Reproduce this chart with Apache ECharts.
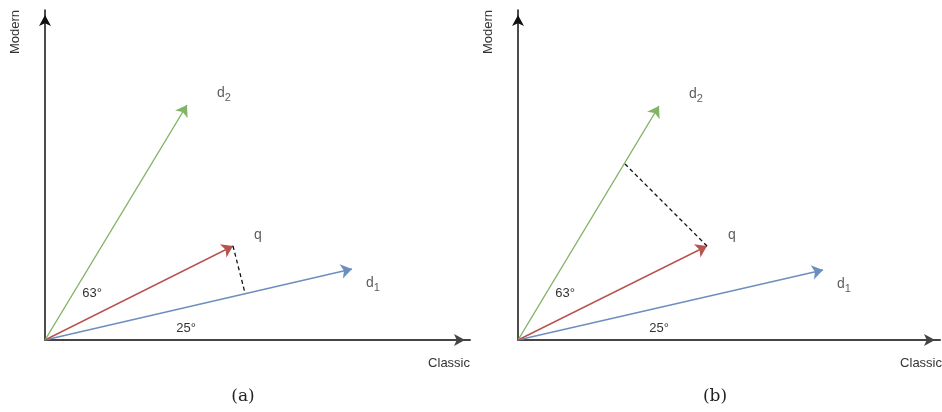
<!DOCTYPE html>
<html>
<head>
<meta charset="utf-8">
<style>
  html, body { margin: 0; padding: 0; background: #ffffff; }
  #chart { width: 942px; height: 412px; }
</style>
<script src="https://cdn.jsdelivr.net/npm/echarts@6/dist/echarts.min.js"></script>
</head>
<body>
<div id="chart"></div>
<script>
// Vector space model: query q and documents d1, d2 in a (Classic, Modern) term space.
// Panel (a) projects q onto d1, panel (b) projects q onto d2.
const panels = ['(a)', '(b)'];
const axisNames = ['Classic', 'Modern'];
const vectorNames = ['d1', 'd2', 'q'];

// Vector tips [classic, modern] per panel
const d1Tips = [[307, 71], [305, 70]];
const d2Tips = [[142, 235], [141, 234]];
const qTips = [[188, 94], [189, 94]];

// Foot of the dashed projection from q onto d1 (panel a) and d2 (panel b)
const projFeet = [[200, 47], [106, 177]];

// Angle annotations
const angleLabels = ['63°', '25°'];

// Axis extents in data units
const xMax = [425, 422];
const yMax = [330, 330];

const COLORS = { d1: '#6c8ebf', d2: '#82b366', q: '#b85450' };
const TEXT = '#333333';
const SANS = 'Arial, "Liberation Sans", Helvetica, sans-serif';

const grids = [
  { left: 45, top: 10, width: 425, height: 330 },
  { left: 518, top: 10, width: 422, height: 330 }
];

function axisLine(color, width) {
  return {
    show: true,
    onZero: false,
    symbol: ['none', 'arrow'],
    symbolSize: [9, 11],
    symbolOffset: [0, -5],
    lineStyle: { color: color, width: width }
  };
}

const xAxes = grids.map((g, i) => ({
  type: 'value', gridIndex: i, min: 0, max: xMax[i],
  axisLine: axisLine('#444444', 2),
  axisTick: { show: false }, axisLabel: { show: false }, splitLine: { show: false }
}));
const yAxes = grids.map((g, i) => ({
  type: 'value', gridIndex: i, min: 0, max: yMax[i],
  axisLine: axisLine('#111111', 1.5),
  axisTick: { show: false }, axisLabel: { show: false }, splitLine: { show: false }
}));

const tipsByName = { d1: d1Tips, d2: d2Tips, q: qTips };
const labelOffset = { d1: [14, 14], d2: [30, -12], q: [21, -11] };

const series = [];
panels.forEach((p, i) => {
  vectorNames.forEach(name => {
    const tip = tipsByName[name][i];
    series.push({
      type: 'lines',
      name: name,
      coordinateSystem: 'cartesian2d',
      xAxisIndex: i, yAxisIndex: i,
      symbol: ['none', 'arrow'],
      symbolSize: [9, 11],
      lineStyle: { color: COLORS[name], width: 1.4, opacity: 1, curveness: 0 },
      silent: true,
      data: [{ coords: [[0, 0], tip] }]
    });
    // Vector name with subscript
    const sub = name.length > 1 ? name.slice(1) : '';
    series.push({
      type: 'scatter',
      xAxisIndex: i, yAxisIndex: i,
      symbolSize: 0,
      silent: true,
      label: {
        show: true,
        position: 'inside',
        align: 'left',
        verticalAlign: 'middle',
        offset: labelOffset[name],
        formatter: sub ? '{m|' + name[0] + '}{s|' + sub + '}' : '{m|' + name + '}',
        rich: {
          m: { fontFamily: SANS, fontSize: 14, color: TEXT },
          s: { fontFamily: SANS, fontSize: 11, color: TEXT, padding: [10, 0, 0, 0] }
        }
      },
      data: [tip]
    });
  });
  // Dashed projection from the tip of q
  series.push({
    type: 'lines',
    coordinateSystem: 'cartesian2d',
    xAxisIndex: i, yAxisIndex: i,
    symbol: ['none', 'none'],
    lineStyle: { color: '#111111', width: 1.3, type: [4, 3], opacity: 1 },
    silent: true,
    data: [{ coords: [qTips[i], projFeet[i]] }]
  });
});

const graphics = [];
const textStyle = (t, extra) => Object.assign({ text: t, fill: TEXT, font: '13px ' + SANS }, extra);
grids.forEach((g, i) => {
  const ox = g.left, oy = g.top + g.height;
  graphics.push(
    { type: 'text', x: ox - 30, y: 32, rotation: Math.PI / 2,
      style: textStyle(axisNames[1], { align: 'center', verticalAlign: 'middle' }) },
    { type: 'text', x: i === 0 ? 470 : 942, y: 363,
      style: textStyle(axisNames[0], { align: 'right', verticalAlign: 'middle' }) },
    { type: 'text', x: ox + 47, y: oy - 47,
      style: textStyle(angleLabels[0], { align: 'center', verticalAlign: 'middle' }) },
    { type: 'text', x: ox + 141, y: oy - 12,
      style: textStyle(angleLabels[1], { align: 'center', verticalAlign: 'middle' }) },
    { type: 'text', x: i === 0 ? 243 : 715, y: 397,
      style: { text: panels[i], fill: '#222222', font: '17px "DejaVu Serif", "Liberation Serif", serif',
               align: 'center', verticalAlign: 'middle' } }
  );
});

const chart = echarts.init(document.getElementById('chart'), null, { renderer: 'canvas' });
chart.setOption({
  animation: false,
  backgroundColor: '#ffffff',
  grid: grids,
  xAxis: xAxes,
  yAxis: yAxes,
  series: series,
  graphic: graphics
});
</script>
</body>
</html>
